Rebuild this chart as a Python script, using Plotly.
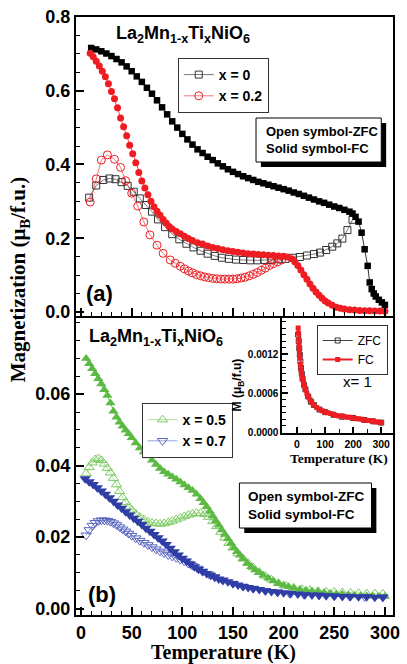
import plotly.graph_objects as go

# ---------------- DATA ----------------
# Panel (a): x = 0, FC (solid squares)
t_x0_fc = [10, 15, 20, 25, 30, 35, 40, 45, 50, 55, 60, 65, 70, 75, 80, 85, 90, 95, 100, 105,
           110, 115, 120, 125, 130, 135, 140, 145, 150, 155, 160, 165, 170, 175, 180, 185, 190,
           195, 200, 205, 210, 215, 220, 225, 230, 235, 240, 245, 250, 255, 260, 265, 268, 271,
           274, 277, 280, 283, 285, 287, 289, 291, 294, 297, 300]
m_x0_fc = [0.716, 0.712, 0.707, 0.701, 0.694, 0.686, 0.677, 0.666, 0.653, 0.639, 0.624, 0.608,
           0.592, 0.574, 0.555, 0.536, 0.517, 0.500, 0.483, 0.468, 0.454, 0.441, 0.431, 0.421,
           0.412, 0.403, 0.395, 0.387, 0.380, 0.374, 0.368, 0.363, 0.358, 0.353, 0.349, 0.345,
           0.341, 0.337, 0.333, 0.329, 0.324, 0.320, 0.315, 0.310, 0.305, 0.300, 0.296, 0.291,
           0.286, 0.282, 0.277, 0.272, 0.267, 0.258, 0.245, 0.215, 0.170, 0.125, 0.080, 0.062,
           0.050, 0.042, 0.033, 0.026, 0.019]

# Panel (a): x = 0, ZFC (open squares)
t_x0_zfc = [8, 15, 22, 28, 34, 40, 46, 52, 58, 64, 70, 76, 83, 90, 97, 104, 111, 118, 125, 132,
            139, 146, 153, 160, 167, 174, 181, 188, 195, 202, 209, 216, 223, 230, 236, 242, 248,
            253, 258, 263, 268]
m_x0_zfc = [0.310, 0.343, 0.358, 0.362, 0.360, 0.352, 0.342, 0.326, 0.308, 0.290, 0.272, 0.251,
            0.230, 0.211, 0.197, 0.185, 0.175, 0.166, 0.158, 0.152, 0.147, 0.144, 0.142, 0.141,
            0.140, 0.140, 0.141, 0.141, 0.143, 0.144, 0.147, 0.149, 0.153, 0.157, 0.161, 0.168,
            0.177, 0.186, 0.199, 0.222, 0.250]

# Panel (a): x = 0.2, ZFC (open circles)
t_x02_zfc = [9, 15, 20, 26, 33, 39, 44, 50, 56, 62, 68, 75, 81, 88, 93, 98, 102, 106, 110, 114,
             118, 122, 126, 130, 134, 138, 142, 146, 150, 154, 158, 162, 166, 170, 174, 178, 182,
             186, 190, 194, 198]
m_x02_zfc = [0.298, 0.361, 0.412, 0.426, 0.414, 0.392, 0.356, 0.322, 0.287, 0.244, 0.209, 0.181,
             0.159, 0.141, 0.132, 0.124, 0.117, 0.111, 0.106, 0.101, 0.098, 0.095, 0.093, 0.091,
             0.090, 0.089, 0.089, 0.089, 0.089, 0.090, 0.092, 0.094, 0.098, 0.102, 0.107, 0.113,
             0.119, 0.126, 0.131, 0.136, 0.141]

# Panel (a): x = 0.2, FC (solid circles)
t_x02_fc = [9, 12, 15, 18, 21, 24, 27, 30, 33, 36, 39, 42, 45, 48, 51, 54, 57, 60, 63, 66, 69,
            72, 75, 78, 81, 84, 87, 90, 94, 98, 102, 106, 110, 115, 120, 125, 130, 135, 140, 145,
            150, 155, 160, 165, 170, 175, 180, 185, 190, 195, 200, 204, 208, 211, 214, 217, 220,
            223, 226, 229, 232, 235, 238, 241, 244, 248, 252, 256, 260, 265, 270, 275, 280, 285,
            290, 295, 300]
m_x02_fc = [0.702, 0.692, 0.680, 0.667, 0.653, 0.638, 0.619, 0.598, 0.578, 0.554, 0.526, 0.502,
            0.478, 0.452, 0.429, 0.405, 0.378, 0.355, 0.336, 0.318, 0.300, 0.285, 0.273, 0.262,
            0.251, 0.241, 0.232, 0.225, 0.218, 0.212, 0.205, 0.199, 0.194, 0.188, 0.184, 0.179,
            0.175, 0.172, 0.169, 0.166, 0.164, 0.162, 0.160, 0.158, 0.157, 0.156, 0.155, 0.154,
            0.153, 0.152, 0.151, 0.149, 0.144, 0.136, 0.126, 0.114, 0.101, 0.089, 0.076, 0.064,
            0.054, 0.045, 0.037, 0.030, 0.024, 0.018, 0.013, 0.010, 0.008, 0.006, 0.005, 0.004,
            0.0035, 0.003, 0.0028, 0.0025, 0.0022]

# Panel (b): x = 0.5, FC (solid up triangles)
t_x05_fc = [5, 8, 11, 14, 17, 20, 23, 26, 29, 32, 35, 38, 41, 44, 47, 50, 54, 58, 62, 66, 70, 74,
            78, 82, 86, 90, 94, 98, 102, 106, 110, 114, 118, 121, 124, 127, 130, 133, 136, 139,
            142, 145, 148, 151, 154, 157, 160, 164, 168, 172, 176, 180, 185, 190, 195, 200, 205,
            210, 216, 222, 228, 234, 240, 246, 252, 258, 264, 270, 276, 282, 288, 294, 300]
m_x05_fc = [0.0700, 0.0685, 0.0671, 0.0657, 0.0643, 0.0628, 0.0612, 0.0596, 0.0575, 0.0552,
            0.0535, 0.0521, 0.0510, 0.0499, 0.0489, 0.0478, 0.0463, 0.0449, 0.0438, 0.0427,
            0.0415, 0.0403, 0.0392, 0.0383, 0.0376, 0.0369, 0.0362, 0.0354, 0.0346, 0.0338,
            0.0330, 0.0320, 0.0307, 0.0296, 0.0285, 0.0272, 0.0259, 0.0246, 0.0233, 0.0220,
            0.0207, 0.0195, 0.0183, 0.0170, 0.0159, 0.0149, 0.0139, 0.0127, 0.0117, 0.0108,
            0.0100, 0.0093, 0.0085, 0.0077, 0.0070, 0.0065, 0.0061, 0.0057, 0.0054, 0.0051,
            0.0049, 0.0047, 0.0045, 0.0043, 0.0041, 0.0040, 0.0038, 0.0037, 0.0036, 0.0035,
            0.0035, 0.0034, 0.0034]

# Panel (b): x = 0.5, ZFC (open up triangles)
t_x05_zfc = [5, 8, 11, 14, 17, 20, 23, 26, 29, 32, 35, 38, 41, 44, 47, 50, 54, 58, 62, 66, 70,
             74, 78, 82, 86, 90, 94, 98, 102, 106, 110, 114, 118, 122, 126, 130, 134, 138, 142,
             146, 150, 155, 160, 165, 170, 176, 182, 188, 195, 202, 210, 218, 226, 234, 242, 250,
             258, 266, 274, 282, 290, 298]
m_x05_zfc = [0.0378, 0.0395, 0.0408, 0.0417, 0.0420, 0.0415, 0.0405, 0.0393, 0.0380, 0.0365,
             0.0347, 0.0328, 0.0311, 0.0297, 0.0285, 0.0276, 0.0265, 0.0256, 0.0249, 0.0243,
             0.0240, 0.0238, 0.0237, 0.0238, 0.0241, 0.0245, 0.0249, 0.0254, 0.0258, 0.0262,
             0.0265, 0.0267, 0.0267, 0.0264, 0.0256, 0.0244, 0.0230, 0.0214, 0.0198, 0.0183,
             0.0170, 0.0154, 0.0140, 0.0127, 0.0115, 0.0102, 0.0091, 0.0081, 0.0071, 0.0064,
             0.0058, 0.0054, 0.0051, 0.0049, 0.0047, 0.0046, 0.0045, 0.0044, 0.0043, 0.0042,
             0.0042, 0.0041]

# Panel (b): x = 0.7, FC (solid down triangles)
t_x07_fc = [4, 8, 12, 16, 20, 24, 28, 32, 36, 40, 44, 48, 52, 56, 60, 64, 68, 72, 76, 80, 84, 88,
            92, 96, 100, 104, 108, 112, 116, 120, 124, 128, 132, 136, 140, 145, 150, 155, 160,
            165, 170, 176, 182, 188, 194, 200, 207, 214, 221, 228, 235, 242, 250, 258, 266, 274,
            282, 290, 298]
m_x07_fc = [0.0363, 0.0355, 0.0347, 0.0338, 0.0329, 0.0320, 0.0310, 0.0300, 0.0290, 0.0281,
            0.0271, 0.0262, 0.0253, 0.0244, 0.0235, 0.0225, 0.0216, 0.0207, 0.0198, 0.0189,
            0.0179, 0.0169, 0.0159, 0.0150, 0.0141, 0.0133, 0.0125, 0.0117, 0.0110, 0.0104,
            0.0098, 0.0093, 0.0088, 0.0083, 0.0079, 0.0075, 0.0070, 0.0066, 0.0062, 0.0059,
            0.0056, 0.0053, 0.0050, 0.0048, 0.0046, 0.0044, 0.0042, 0.0041, 0.0039, 0.0038,
            0.0037, 0.0036, 0.0035, 0.0034, 0.0034, 0.0033, 0.0033, 0.0032, 0.0032]

# Panel (b): x = 0.7, ZFC (open down triangles)
t_x07_zfc = [5, 8, 11, 14, 17, 20, 23, 26, 29, 32, 35, 38, 41, 44, 47, 50, 54, 58, 62, 66, 70,
             74, 78, 82, 86, 90, 94, 98, 102, 106, 110, 115, 120, 126, 132, 140, 150, 160, 170,
             182, 194, 206, 220, 235, 250, 265, 280, 298]
m_x07_zfc = [0.0205, 0.0220, 0.0232, 0.0240, 0.0245, 0.0247, 0.0247, 0.0246, 0.0243, 0.0239,
             0.0234, 0.0228, 0.0222, 0.0216, 0.0210, 0.0204, 0.0197, 0.0190, 0.0184, 0.0178,
             0.0172, 0.0166, 0.0160, 0.0155, 0.0150, 0.0146, 0.0142, 0.0137, 0.0132, 0.0126,
             0.0120, 0.0112, 0.0104, 0.0096, 0.0088, 0.0079, 0.0070, 0.0062, 0.0056, 0.0050,
             0.0046, 0.0042, 0.0039, 0.0037, 0.0035, 0.0034, 0.0033, 0.0032]

# Inset: x = 1
t_x1_fc = [4, 5, 6, 7, 8, 9, 10, 12, 14, 16, 18, 20, 23, 26, 30, 35, 40, 46, 52, 60, 70, 80, 90,
           100, 110, 120, 130, 140, 150, 160, 170, 180, 190, 200, 210, 220, 230, 240, 250, 260,
           270, 280, 290, 300]
m_x1_fc = [0.00160, 0.00152, 0.00143, 0.00135, 0.00127, 0.00120, 0.00114, 0.00104, 0.00096,
           0.00090, 0.00085, 0.00081, 0.00076, 0.00071, 0.00066, 0.00060, 0.00055, 0.00050,
           0.00046, 0.00042, 0.00038, 0.00035, 0.00033, 0.00031, 0.00030, 0.00029, 0.00027,
           0.00026, 0.00025, 0.00025, 0.00024, 0.00023, 0.00023, 0.00022, 0.00021, 0.00021,
           0.00020, 0.00019, 0.00018, 0.00018, 0.00017, 0.00016, 0.00016, 0.00015]
t_x1_zfc = [4, 6, 8, 10, 12, 14, 17, 20, 25, 30, 40, 50, 60, 80, 100, 130, 160, 200, 240, 270, 300]
m_x1_zfc = [0.00150, 0.00140, 0.00129, 0.00119, 0.00109, 0.00099, 0.00090, 0.00082, 0.00073,
            0.00066, 0.00055, 0.00047, 0.00042, 0.00035, 0.00031, 0.00027, 0.00024, 0.00022,
            0.00019, 0.00017, 0.00015]

# Tick values shown
yticks_a = [0.0, 0.2, 0.4, 0.6, 0.8]
yticks_b = [0.00, 0.02, 0.04, 0.06]
yticks_inset = [0.0, 0.0006, 0.0012]

# ---------------- STYLE ----------------
RED = "#ee1d23"
GREEN = "#5cb944"
GREEN_L = "#7ccb62"
BLUE = "#2f3da6"
BLUE_L = "#5664c0"
SANS = "Liberation Sans"
SERIF = "Liberation Serif"

L, R, T, B = 76, 7, 17, 49
W, H = 407, 664
PW, PH = W - L - R, H - T - B


def px(x):
    return (x - L) / PW


def py(y):
    return (H - B - y) / PH


fig = go.Figure()

# Panel (a)
fig.add_trace(go.Scatter(x=t_x0_zfc, y=m_x0_zfc, mode="lines+markers", name="x = 0",
                         xaxis="x", yaxis="y", legend="legend",
                         line=dict(color="#555555", width=0.8),
                         marker=dict(symbol="square-open", size=7, color="#333333",
                                     line=dict(width=1))))
fig.add_trace(go.Scatter(x=t_x02_zfc, y=m_x02_zfc, mode="lines+markers", name="x = 0.2",
                         xaxis="x", yaxis="y", legend="legend",
                         line=dict(color=RED, width=0.6),
                         marker=dict(symbol="circle-open", size=8, color=RED,
                                     line=dict(width=1))))
fig.add_trace(go.Scatter(x=t_x0_fc, y=m_x0_fc, mode="lines+markers", showlegend=False,
                         xaxis="x", yaxis="y",
                         line=dict(color="black", width=0.8),
                         marker=dict(symbol="square", size=6.5, color="black")))
fig.add_trace(go.Scatter(x=t_x02_fc, y=m_x02_fc, mode="lines+markers", showlegend=False,
                         xaxis="x", yaxis="y",
                         line=dict(color=RED, width=0.8),
                         marker=dict(symbol="circle", size=7, color=RED)))

# Panel (b)
fig.add_trace(go.Scatter(x=t_x05_zfc, y=m_x05_zfc, mode="lines+markers", name="x = 0.5",
                         xaxis="x2", yaxis="y2", legend="legend2",
                         line=dict(color=GREEN_L, width=0.6),
                         marker=dict(symbol="triangle-up-open", size=9, color=GREEN_L,
                                     line=dict(width=1))))
fig.add_trace(go.Scatter(x=t_x05_fc, y=m_x05_fc, mode="lines+markers", showlegend=False,
                         xaxis="x2", yaxis="y2",
                         line=dict(color=GREEN, width=1),
                         marker=dict(symbol="triangle-up", size=9, color=GREEN)))
fig.add_trace(go.Scatter(x=t_x07_zfc, y=m_x07_zfc, mode="lines+markers", name="x = 0.7",
                         xaxis="x2", yaxis="y2", legend="legend2",
                         line=dict(color=BLUE_L, width=0.6),
                         marker=dict(symbol="triangle-down-open", size=9, color=BLUE_L,
                                     line=dict(width=1))))
fig.add_trace(go.Scatter(x=t_x07_fc, y=m_x07_fc, mode="lines+markers", showlegend=False,
                         xaxis="x2", yaxis="y2",
                         line=dict(color=BLUE, width=1),
                         marker=dict(symbol="triangle-down", size=10, color=BLUE)))

# Inset
fig.add_trace(go.Scatter(x=t_x1_zfc, y=m_x1_zfc, mode="lines+markers", name="ZFC",
                         xaxis="x3", yaxis="y3", legend="legend3",
                         line=dict(color="#444444", width=1),
                         marker=dict(symbol="square-open", size=5, color="#333333",
                                     line=dict(width=1))))
fig.add_trace(go.Scatter(x=t_x1_fc, y=m_x1_fc, mode="lines+markers", name="FC",
                         xaxis="x3", yaxis="y3", legend="legend3",
                         line=dict(color=RED, width=2),
                         marker=dict(symbol="square", size=5, color=RED)))

axis_common = dict(showline=True, linecolor="black", linewidth=2, mirror=True,
                   ticks="inside", tickcolor="black", tickwidth=1.5, showgrid=False,
                   zeroline=False)
tickfont = dict(family=SANS, size=18, color="black", weight="bold")

top_lo = py(316)
bot_hi = py(318)
ins_x0 = px(287)
ins_y0 = py(433)

fig.update_layout(
    width=W, height=H,
    margin=dict(l=L, r=R, t=T, b=B),
    paper_bgcolor="white", plot_bgcolor="white",
    xaxis=dict(domain=[0, 1], anchor="y", range=[-5, 308], dtick=50, ticklen=8,
               showticklabels=False,
               minor=dict(dtick=10, ticklen=4, ticks="inside", tickcolor="black", tickwidth=1.2),
               **axis_common),
    yaxis=dict(domain=[top_lo, 1], anchor="x", range=[-0.011, 0.8], tickvals=yticks_a,
               ticklen=8, tickformat=".1f", tickfont=tickfont,
               minor=dict(dtick=0.05, ticklen=4, ticks="inside", tickcolor="black", tickwidth=1.2),
               **axis_common),
    xaxis2=dict(domain=[0, 1], anchor="y2", range=[-5, 308], dtick=50, ticklen=8,
                tickfont=tickfont,
                minor=dict(dtick=10, ticklen=4, ticks="inside", tickcolor="black", tickwidth=1.2),
                **axis_common),
    yaxis2=dict(domain=[0, bot_hi], anchor="x2", range=[-0.0018, 0.0813], tickvals=yticks_b,
                ticklen=8, tickformat=".2f", tickfont=tickfont,
                minor=dict(dtick=0.005, ticklen=4, ticks="inside", tickcolor="black", tickwidth=1.2),
                **axis_common),
    xaxis3=dict(domain=[ins_x0, 1], anchor="y3", range=[-52, 342], dtick=100, ticklen=6,
                tickfont=dict(family=SANS, size=10.5, color="black", weight="bold"),
                minor=dict(dtick=50, ticklen=4, ticks="inside", tickcolor="black", tickwidth=1.2),
                **axis_common),
    yaxis3=dict(domain=[ins_y0, bot_hi], anchor="x3", range=[-0.00001, 0.001755],
                tickvals=yticks_inset, ticklen=6, tickformat=".4f",
                tickfont=dict(family=SANS, size=10, color="black", weight="bold"),
                minor=dict(dtick=0.0001, ticklen=4, ticks="inside", tickcolor="black", tickwidth=1.2),
                **axis_common),
    legend=dict(x=px(180), y=py(58), xanchor="left", yanchor="top",
                bordercolor="#333333", borderwidth=1, bgcolor="white", tracegroupgap=0,
                font=dict(family=SANS, size=14, color="black", weight="bold")),
    legend2=dict(x=px(143), y=py(403), xanchor="left", yanchor="top",
                 bordercolor="#333333", borderwidth=1, bgcolor="white", tracegroupgap=0,
                 font=dict(family=SANS, size=14, color="black", weight="bold")),
    legend3=dict(x=px(322), y=py(325), xanchor="left", yanchor="top",
                 bordercolor="#333333", borderwidth=1, bgcolor="white", tracegroupgap=0,
                 font=dict(family=SANS, size=12, color="black")),
    showlegend=True,
)

# Boxes with shadow
shapes = []
for (x0, y0, x1, y1) in [(260, 118, 388, 162), (243, 483, 378, 528)]:
    shapes.append(dict(type="rect", xref="paper", yref="paper",
                       x0=px(x0 + 5), x1=px(x1 + 5), y0=py(y1 + 5), y1=py(y0 + 5),
                       fillcolor="black", line=dict(width=0)))
    shapes.append(dict(type="rect", xref="paper", yref="paper",
                       x0=px(x0), x1=px(x1), y0=py(y1), y1=py(y0),
                       fillcolor="white", line=dict(color="black", width=1)))
fig.update_layout(shapes=shapes)

ann = []
formula = "La<sub>2</sub>Mn<sub>1-x</sub>Ti<sub>x</sub>NiO<sub>6</sub>"
ann.append(dict(text=formula, x=px(115), y=py(35), xanchor="left", yanchor="middle",
                font=dict(family=SANS, size=18, color="black", weight="bold")))
ann.append(dict(text=formula, x=px(87), y=py(337), xanchor="left", yanchor="middle",
                font=dict(family=SANS, size=18, color="black", weight="bold")))
ann.append(dict(text="(a)", x=px(100), y=py(293), xanchor="center", yanchor="middle",
                font=dict(family=SANS, size=22, color="black", weight="bold")))
ann.append(dict(text="(b)", x=px(103), y=py(594), xanchor="center", yanchor="middle",
                font=dict(family=SANS, size=22, color="black", weight="bold")))
ann.append(dict(text="Open symbol-ZFC<br>Solid symbol-FC", x=px(268), y=py(140),
                xanchor="left", yanchor="middle", align="left",
                font=dict(family=SANS, size=13, color="black", weight="bold")))
ann.append(dict(text="Open symbol-ZFC<br>Solid symbol-FC", x=px(250), y=py(505.5),
                xanchor="left", yanchor="middle", align="left",
                font=dict(family=SANS, size=13.5, color="black", weight="bold")))
ann.append(dict(text="x= 1", x=px(364), y=py(381), xanchor="center", yanchor="middle",
                font=dict(family=SANS, size=15, color="black")))
ann.append(dict(text="Magnetization (\u03bc<sub>B</sub>/f.u.)", x=px(18), y=py(280),
                xanchor="center", yanchor="middle", textangle=-90,
                font=dict(family=SERIF, size=21, color="black", weight="bold")))
ann.append(dict(text="Temperature (K)", x=px(227), y=py(652), xanchor="center",
                yanchor="middle",
                font=dict(family=SERIF, size=20, color="black", weight="bold")))
ann.append(dict(text="M (\u03bc<sub>B</sub>/f.u)", x=px(242), y=py(385), xanchor="center",
                yanchor="middle", textangle=-90,
                font=dict(family=SANS, size=12, color="black", weight="bold")))
ann.append(dict(text="Temperature (K)", x=px(345), y=py(459), xanchor="center",
                yanchor="middle",
                font=dict(family=SERIF, size=13.5, color="black", weight="bold")))
for a in ann:
    a.update(xref="paper", yref="paper", showarrow=False)
fig.update_layout(annotations=ann)

fig.write_html("out.html", config={"displayModeBar": False},
               post_script="document.body.style.margin='0';document.body.style.padding='0';")
